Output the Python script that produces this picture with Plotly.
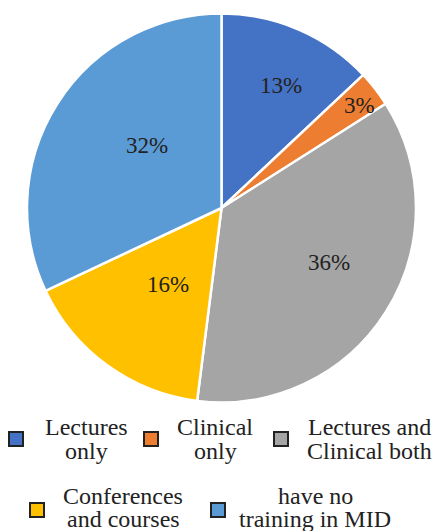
import math
import plotly.graph_objects as go

categories = ["Lectures only", "Clinical only", "Lectures and Clinical both",
              "Conferences and courses", "have no training in MID"]
values = [13, 3, 36, 16, 32]
colors = ["#4472C4", "#ED7D31", "#A5A5A5", "#FFC000", "#5B9BD5"]
legend_lines = [["Lectures", "only"], ["Clinical", "only"], ["Lectures and", "Clinical both"],
                ["Conferences", "and courses"], ["have no", "training in MID"]]

W, H = 435, 531
FONT = "Liberation Serif"
CX, CY, R = 221.5, 208, 194.5
# placement of the percentage labels (fraction of radius, angular nudge in degrees), styling only
label_r = [0.70, 0.885, 0.62, 0.48, 0.50]
label_nudge = [2.4, 1.2, -5.5, -1.0, 7.4]

fig = go.Figure(go.Pie(
    labels=categories, values=values, sort=False, direction="clockwise", rotation=0,
    marker=dict(colors=colors, line=dict(color="white", width=2.5)),
    textinfo="none",
    domain=dict(x=[(CX - R) / W, (CX + R) / W], y=[1 - (CY + R) / H, 1 - (CY - R) / H]),
    showlegend=False, hoverinfo="label+value",
))

annotations, shapes = [], []
total = sum(values)
cum = 0
for v, fr, nd in zip(values, label_r, label_nudge):
    mid = (cum + v / 2) / total * 2 * math.pi + math.radians(nd)
    cum += v
    px = CX + fr * R * math.sin(mid)
    py = CY - fr * R * math.cos(mid)
    annotations.append(dict(text=f"{v}%", x=px / W, y=1 - py / H, xref="paper", yref="paper",
                            showarrow=False, xanchor="center", yanchor="middle",
                            font=dict(family=FONT, size=23, color="#222222")))

# custom legend: (square center x, square center y, text center x, line1 y, line2 y)
legend_pos = [(16, 439, 86, 427, 451), (151, 439, 215, 427, 451), (281, 439, 369, 427, 451),
              (37, 510, 123, 496, 519), (218, 510, 315, 496, 519)]
for (sx, sy, tx, y1, y2), col, lines in zip(legend_pos, colors, legend_lines):
    s = 7
    shapes.append(dict(type="rect", xref="paper", yref="paper",
                       x0=(sx - s) / W, x1=(sx + s) / W, y0=1 - (sy + s) / H, y1=1 - (sy - s) / H,
                       fillcolor=col, line=dict(color="#222222", width=2)))
    for ln, ly in zip(lines, (y1, y2)):
        annotations.append(dict(text=ln, x=tx / W, y=1 - ly / H, xref="paper", yref="paper",
                                showarrow=False, xanchor="center", yanchor="middle",
                                font=dict(family=FONT, size=24, color="#222222")))

fig.update_layout(width=W, height=H, margin=dict(l=0, r=0, t=0, b=0),
                  paper_bgcolor="white", plot_bgcolor="white",
                  shapes=shapes, annotations=annotations)
fig.write_html("out.html")
